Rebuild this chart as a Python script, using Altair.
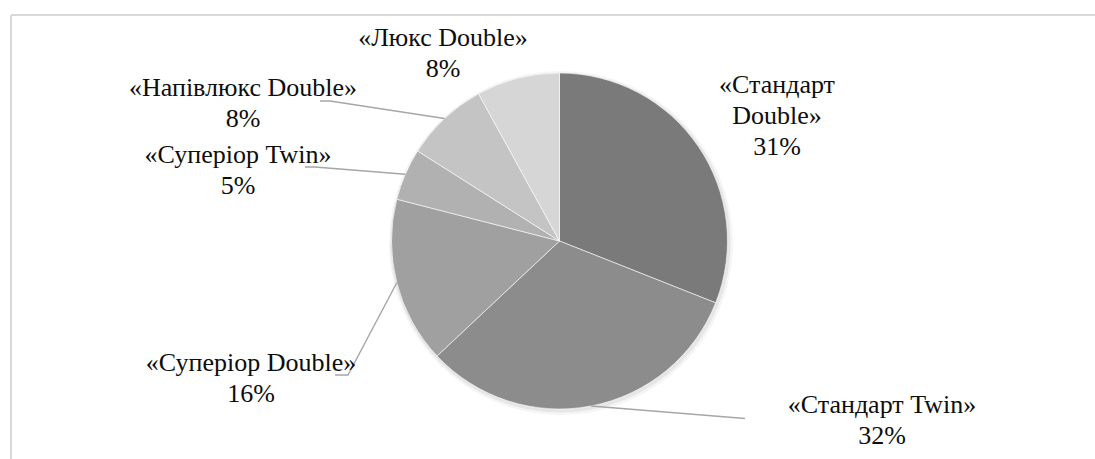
import math
import altair as alt
import pandas as pd

# ---- data ----
categories = ["«Стандарт Double»", "«Стандарт Twin»", "«Суперіор Double»",
              "«Суперіор Twin»", "«Напівлюкс Double»", "«Люкс Double»"]
values = [31, 32, 16, 5, 8, 8]
label_lines = [["«Стандарт", "Double»"], ["«Стандарт Twin»"], ["«Суперіор Double»"],
               ["«Суперіор Twin»"], ["«Напівлюкс Double»"], ["«Люкс Double»"]]
colors = ["#7a7a7a", "#8c8c8c", "#a0a0a0", "#b1b1b1", "#c4c4c4", "#d6d6d6"]

# ---- layout ----
W, H = 1095, 459
CX, CY, R = 559.5, 241.0, 168.0
LINE_H = 31
FONT = "Liberation Serif"
# centre of the first text line of each label
label_first = [(777, 85), (882, 405), (251, 363), (238, 155), (243, 88), (443, 38)]
# leader line elbow + end per category (None = no leader)
leader_pts = [None, [(745, 418.5)], [(348, 375), (335, 375)],
              [(315, 167), (305, 167)], [(330, 101), (320, 101)], None]

pie_df = pd.DataFrame({"cat": categories, "value": values, "idx": range(len(values))})

total = sum(values)
lab_rows, lead_rows = [], []
cum = 0
for i, (c, v) in enumerate(zip(categories, values)):
    mid = (cum + v / 2) / total * 2 * math.pi
    cum += v
    lx, ly = label_first[i]
    for k, line in enumerate(label_lines[i] + [f"{v}%"]):
        lab_rows.append({"lx": lx, "ly": ly + k * LINE_H, "lbl": line})
    if leader_pts[i]:
        pts = [(CX + R * math.sin(mid), CY - R * math.cos(mid))] + leader_pts[i]
        for j, (px, py) in enumerate(pts):
            lead_rows.append({"g": c, "o": j, "px": px, "py": py})
lab_df = pd.DataFrame(lab_rows)
lead_df = pd.DataFrame(lead_rows)

xs = alt.Scale(domain=[0, W], nice=False, zero=False)
ys = alt.Scale(domain=[0, H], nice=False, zero=False, reverse=True)

one = pd.DataFrame({"a": [1]})

frame_top = alt.Chart(one).mark_rule(color="#d9d9d9", strokeWidth=2).encode(
    x=alt.value(11), x2=alt.value(W), y=alt.value(15))
frame_left = alt.Chart(one).mark_rule(color="#d9d9d9", strokeWidth=2).encode(
    x=alt.value(11), y=alt.value(15), y2=alt.value(H))

shadow1 = alt.Chart(one).mark_arc(outerRadius=R + 4, theta=0, theta2=2 * math.pi,
                                  color="#000000", opacity=0.04).encode(
    x=alt.value(CX + 1.5), y=alt.value(CY + 2))
shadow2 = alt.Chart(one).mark_arc(outerRadius=R + 2, theta=0, theta2=2 * math.pi,
                                  color="#000000", opacity=0.06).encode(
    x=alt.value(CX + 1), y=alt.value(CY + 1.5))

pie = alt.Chart(pie_df).mark_arc(outerRadius=R, stroke="#ffffff", strokeWidth=0.6).encode(
    theta=alt.Theta("value:Q", stack=True),
    color=alt.Color("cat:N", scale=alt.Scale(domain=categories, range=colors), legend=None),
    order=alt.Order("idx:Q"),
    x=alt.value(CX), y=alt.value(CY),
)

leaders = alt.Chart(lead_df).mark_line(color="#a6a6a6", strokeWidth=1.4).encode(
    x=alt.X("px:Q", scale=xs, axis=None),
    y=alt.Y("py:Q", scale=ys, axis=None),
    detail="g:N",
    order="o:Q",
)

labels = alt.Chart(lab_df).mark_text(font=FONT, fontSize=26, align="center",
                                     baseline="middle", fill="#0d0d0d").encode(
    x=alt.X("lx:Q", scale=xs, axis=None),
    y=alt.Y("ly:Q", scale=ys, axis=None),
    text="lbl:N",
)

chart = alt.layer(frame_top, frame_left, shadow2, shadow1, pie, leaders, labels).properties(
    width=W, height=H, padding=0, autosize=alt.AutoSizeParams(type="none"),
    background="#ffffff",
).configure(font=FONT).configure_text(font=FONT).configure_view(stroke=None)

chart.save("out.html", embed_options={"renderer": "svg", "actions": False})
